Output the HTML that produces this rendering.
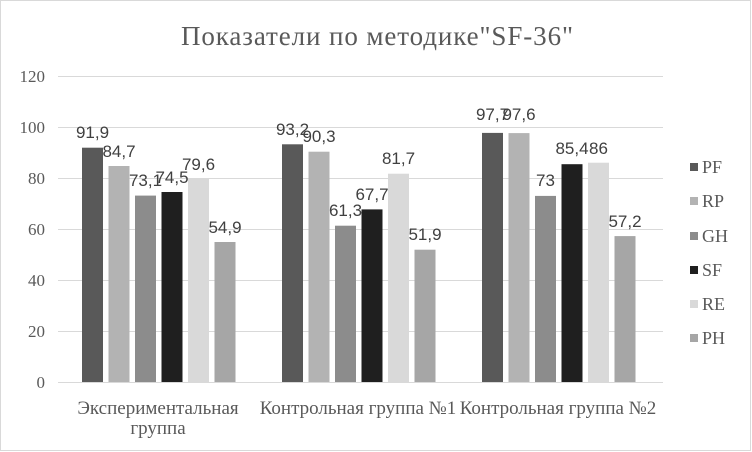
<!DOCTYPE html>
<html><head><meta charset="utf-8"><style>
html,body{margin:0;padding:0;background:#fff}
svg{display:block}
</style></head><body>
<svg width="752" height="452" viewBox="0 0 752 452" xmlns="http://www.w3.org/2000/svg">
<rect x="0.5" y="0.5" width="750" height="450" fill="#fff" stroke="#d9d9d9"/>
<text x="377" y="45" text-anchor="middle" font-family="Liberation Serif, serif" font-size="27" fill="#595959" textLength="392">Показатели  по методике"SF-36"</text>
<g stroke="#d9d9d9" stroke-width="1">
<line x1="58" x2="663" y1="76.5" y2="76.5"/>
<line x1="58" x2="663" y1="127.5" y2="127.5"/>
<line x1="58" x2="663" y1="178.5" y2="178.5"/>
<line x1="58" x2="663" y1="229.5" y2="229.5"/>
<line x1="58" x2="663" y1="280.5" y2="280.5"/>
<line x1="58" x2="663" y1="331.5" y2="331.5"/>
<line x1="58" x2="663" y1="382.5" y2="382.5"/>
</g>
<g font-family="Liberation Serif, serif" font-size="17" fill="#595959" text-anchor="end">
<text x="45" y="82">120</text><text x="45" y="133">100</text><text x="45" y="184">80</text>
<text x="45" y="235">60</text><text x="45" y="286">40</text><text x="45" y="337">20</text><text x="45" y="388">0</text>
</g>
<g font-family="Liberation Serif, serif" font-size="19" fill="#595959" text-anchor="middle">
<text x="158" y="414">Экспериментальная</text>
<text x="158" y="434">группа</text>
<text x="358" y="414">Контрольная группа №1</text>
<text x="558" y="414">Контрольная группа №2</text>
</g>
<g font-family="Liberation Serif, serif" font-size="18" fill="#595959">
<rect x="690" y="163" width="8" height="8" fill="#595959"/><text x="702" y="173">PF</text>
<rect x="690" y="197" width="8" height="8" fill="#b3b3b3"/><text x="702" y="207">RP</text>
<rect x="690" y="232" width="8" height="8" fill="#8c8c8c"/><text x="702" y="242">GH</text>
<rect x="690" y="266" width="8" height="8" fill="#1f1f1f"/><text x="702" y="276">SF</text>
<rect x="690" y="300" width="8" height="8" fill="#d9d9d9"/><text x="702" y="310">RE</text>
<rect x="690" y="334" width="8" height="8" fill="#a6a6a6"/><text x="702" y="344">PH</text>
</g>
<g fill="#404040" font-family="Liberation Sans, sans-serif" font-size="17" text-anchor="middle">
<rect x="82" y="147.7" width="21" height="234.3" fill="#595959"/><text x="92.5" y="138">91,9</text>
<rect x="108.5" y="166" width="21" height="216" fill="#b3b3b3"/><text x="119" y="157">84,7</text>
<rect x="135" y="195.6" width="21" height="186.4" fill="#8c8c8c"/><text x="145.5" y="186">73,1</text>
<rect x="161.5" y="192" width="21" height="190" fill="#1f1f1f"/><text x="172" y="183">74,5</text>
<rect x="188" y="179" width="21" height="203" fill="#d9d9d9"/><text x="198.5" y="170">79,6</text>
<rect x="214.5" y="242" width="21" height="140" fill="#a6a6a6"/><text x="225" y="233">54,9</text>
<rect x="282" y="144.3" width="21" height="237.7" fill="#595959"/><text x="292.5" y="135">93,2</text>
<rect x="308.5" y="151.7" width="21" height="230.3" fill="#b3b3b3"/><text x="319" y="142">90,3</text>
<rect x="335" y="225.7" width="21" height="156.3" fill="#8c8c8c"/><text x="345.5" y="216">61,3</text>
<rect x="361.5" y="209.4" width="21" height="172.6" fill="#1f1f1f"/><text x="372" y="200">67,7</text>
<rect x="388" y="173.7" width="21" height="208.3" fill="#d9d9d9"/><text x="398.5" y="164">81,7</text>
<rect x="414.5" y="249.7" width="21" height="132.3" fill="#a6a6a6"/><text x="425" y="240">51,9</text>
<rect x="482" y="132.9" width="21" height="249.1" fill="#595959"/><text x="492.5" y="120">97,7</text>
<rect x="508.5" y="133.1" width="21" height="248.9" fill="#b3b3b3"/><text x="519" y="120">97,6</text>
<rect x="535" y="195.9" width="21" height="186.1" fill="#8c8c8c"/><text x="545.5" y="186">73</text>
<rect x="561.5" y="164.2" width="21" height="217.8" fill="#1f1f1f"/><text x="572" y="154">85,4</text>
<rect x="588" y="162.7" width="21" height="219.3" fill="#d9d9d9"/><text x="598.5" y="154">86</text>
<rect x="614.5" y="236.1" width="21" height="145.9" fill="#a6a6a6"/><text x="625" y="227">57,2</text>
</g>
<line x1="58" x2="663" y1="382.5" y2="382.5" stroke="#d9d9d9"/>
</svg>
</body></html>
